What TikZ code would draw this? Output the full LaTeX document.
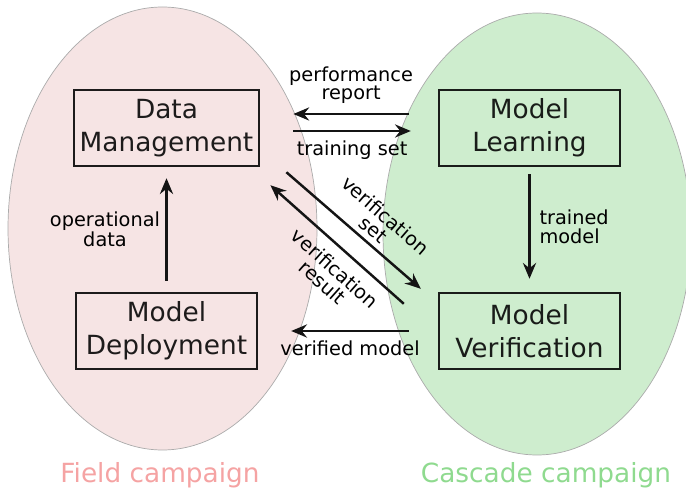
\documentclass[tikz,border=0pt]{standalone}
\usepackage{fontspec}
\setmainfont{DejaVu Sans}
\usetikzlibrary{arrows.meta,calc}
\definecolor{fieldFill}{HTML}{F6E4E4}
\definecolor{cascadeFill}{HTML}{CEEDCE}
\definecolor{fieldText}{HTML}{F5A3A3}
\definecolor{cascadeText}{HTML}{8FDA8F}
\definecolor{ringGray}{HTML}{ABABAB}
\begin{document}
\begin{tikzpicture}
[x=0.02cm,y=-0.02cm,
  lineDecorate/.style={-{Stealth[length=9pt,width=7.5pt,inset=3pt]},line width=1.4pt,draw=black!92},%
  nodeDecorate/.style={shape=rectangle,draw,line width=1.4pt,minimum width=3.62cm,
    minimum height=1.52cm,align=center,font=\fontsize{15}{18.8}\selectfont,
    draw opacity=0.88,text opacity=0.88},%
  labelDecorate/.style={font=\fontsize{11}{10.6}\selectfont,align=center,inner sep=2pt},%
  campDecorate/.style={draw=ringGray,line width=0.4pt},%
  campLabel/.style={font=\fontsize{15}{18}\selectfont}]
\useasboundingbox (0,0) rectangle (686,489);
\clip (0,0) rectangle (686,489);
%% campaigns
\fill[fieldFill,campDecorate] (162.5,228.5) ellipse [x radius=154.5,y radius=221.5];
\fill[cascadeFill,campDecorate] (537,234) ellipse [x radius=154,y radius=221];
\node[campLabel,text=fieldText] (fieldLabel) at (160,475) {Field campaign};
\node[campLabel,text=cascadeText] (cascadeLabel) at (546,475) {Cascade campaign};
%% stages
\foreach \nodename/\x/\y/\boxtext in {
  dm/166.5/128/{Data\\Management}, ml/529.5/128/{Model\\Learning},
  md/166.5/331/{Model\\Deployment}, mv/529.5/331/{Model\\Verification}}
{
  \node (\nodename) at (\x,\y) [nodeDecorate] {\boxtext};
}
%% flows between stages
\draw[lineDecorate] ($(ml.west)+(-29,-14)$) -- node[labelDecorate,above=3pt] {performance\\report} ($(dm.east)+(33,-14)$);
\draw[lineDecorate] ($(dm.east)+(33,3)$) -- node[labelDecorate,below=3pt] {training set} ($(ml.west)+(-27,3)$);
\draw[lineDecorate] ($(md.north)+(0,-11)$) -- node[labelDecorate,left=1pt] {operational\\data} ($(dm.south)+(0,11)$);
\draw[lineDecorate] ($(ml.south)+(0,7)$) -- node[labelDecorate,right=3pt,align=left] {trained\\model} ($(mv.north)+(0,-13)$);
\draw[lineDecorate] ($(mv.west)+(-29,0)$) -- node[labelDecorate,below=3pt] {verified model} ($(md.east)+(33,0)$);
\draw[lineDecorate] ($(dm.south east)+(26,5)$) -- node[labelDecorate,pos=0.58,sloped,above=1pt] {verification\\set} ($(mv.north west)+(-17,-3)$);
\draw[lineDecorate] ($(mv.north west)+(-34,12)$) -- node[labelDecorate,pos=0.42,sloped,below=4pt] {verification\\result} ($(dm.south east)+(10,18)$);
\end{tikzpicture}
\end{document}
